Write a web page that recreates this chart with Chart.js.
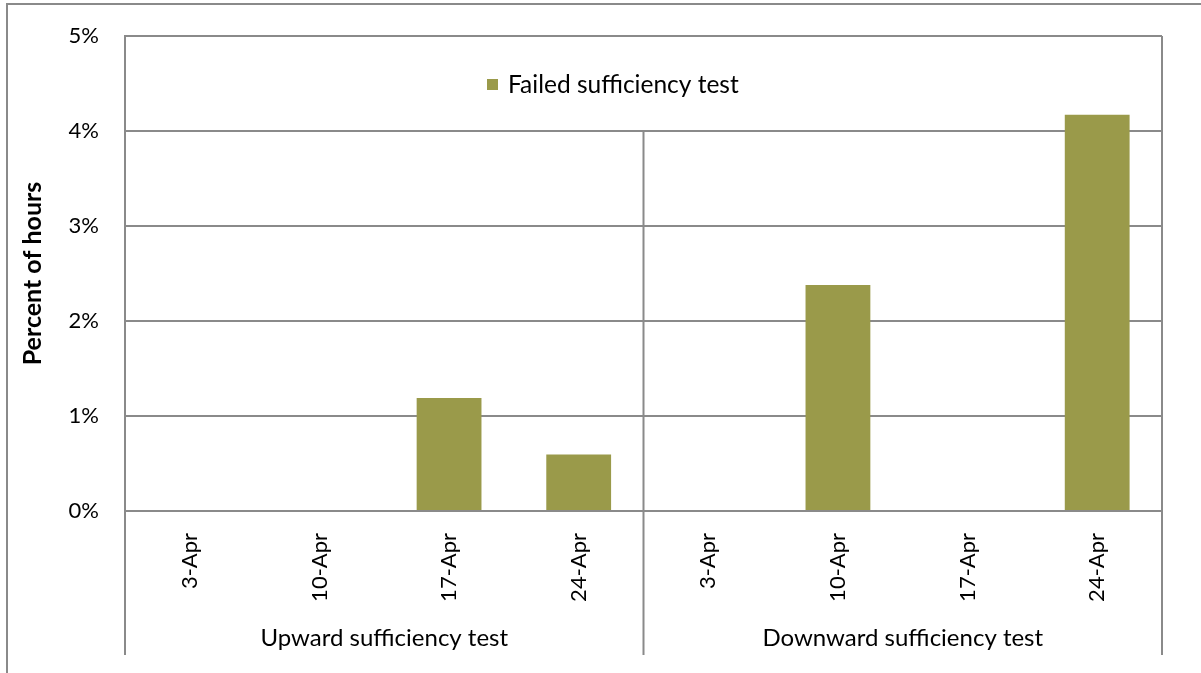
<!DOCTYPE html>
<html>
<head>
<meta charset="utf-8">
<script src="https://cdn.jsdelivr.net/npm/chart.js@4.4.0/dist/chart.umd.min.js"></script>
<style>
  html, body { margin: 0; padding: 0; background: #fff; }
  #wrap { width: 1201px; height: 673px; }
</style>
</head>
<body>
<div id="wrap"><canvas id="myChart" width="1201" height="673"></canvas></div>
<script>
// data
const dates = ['3-Apr', '10-Apr', '17-Apr', '24-Apr', '3-Apr', '10-Apr', '17-Apr', '24-Apr'];
const groups = ['Upward sufficiency test', 'Downward sufficiency test'];
const groupSize = 4;
const failedPct = [0, 0, 1.19, 0.595, 0, 2.38, 0, 4.17];
const yMax = 5;
const yStep = 1;

const FONT = 'Lato, "Noto Sans", sans-serif';
const gridGray = '#8a8a8a';
const barColor = '#9a9a4a';

// group labels, separators, plot border, legend, outer frame
const excelBits = {
    id: 'excelBits',
    afterDraw(chart) {
        const ctx = chart.ctx;
        const x = chart.scales.x;
        const y = chart.scales.y;
        const area = chart.chartArea;
        const bottom = 655;
        ctx.save();
        ctx.strokeStyle = gridGray;
        ctx.lineWidth = 2;
        // plot border right side
        ctx.beginPath();
        ctx.moveTo(area.right, area.top);
        ctx.lineTo(area.right, bottom);
        ctx.moveTo(area.left, area.bottom);
        ctx.lineTo(area.left, bottom);
        ctx.stroke();
        // separators between groups
        for (let g = 1; g < groups.length; g++) {
            const i = g * groupSize;
            const sx = (x.getPixelForValue(i - 1) + x.getPixelForValue(i)) / 2;
            ctx.beginPath();
            ctx.moveTo(sx, y.getPixelForValue(4));
            ctx.lineTo(sx, bottom);
            ctx.stroke();
        }
        // group labels
        ctx.fillStyle = '#000';
        ctx.font = '24px ' + FONT;
        ctx.textAlign = 'center';
        ctx.textBaseline = 'middle';
        groups.forEach((name, g) => {
            const a = x.getPixelForValue(g * groupSize);
            const b = x.getPixelForValue(g * groupSize + groupSize - 1);
            ctx.fillText(name, (a + b) / 2, 638);
        });
        // legend
        const ds = chart.data.datasets[0];
        ctx.fillStyle = ds.backgroundColor;
        ctx.fillRect(487, 79, 11, 11);
        ctx.fillStyle = '#000';
        ctx.textAlign = 'left';
        ctx.font = '24.5px ' + FONT;
        ctx.fillText(ds.label, 508, 85);
        // outer frame
        ctx.strokeStyle = gridGray;
        ctx.strokeRect(7, 4, 1400, 900);
        ctx.restore();
    }
};

let myChart = document.getElementById('myChart').getContext('2d');

let failChart = new Chart(myChart, {
    type: 'bar',
    data: {
        labels: dates,
        datasets: [{
            label: 'Failed sufficiency test',
            data: failedPct,
            backgroundColor: barColor,
            borderWidth: 0,
            categoryPercentage: 0.5,
            barPercentage: 1.0
        }]
    },
    options: {
        responsive: false,
        animation: false,
        layout: { padding: { top: 36, right: 39, left: 0, bottom: 0 } },
        plugins: {
            legend: { display: false },
            tooltip: { enabled: false }
        },
        scales: {
            x: {
                grid: { display: false },
                border: { color: gridGray, width: 2 },
                ticks: {
                    color: '#000',
                    font: { family: FONT, size: 22 },
                    minRotation: 90,
                    maxRotation: 90,
                    padding: 14,
                    autoSkip: false
                },
                afterFit(scale) { scale.height = 162; }
            },
            y: {
                min: 0,
                max: yMax,
                grid: { color: gridGray, lineWidth: 2, drawTicks: true, tickLength: 22, tickColor: 'rgba(0,0,0,0)' },
                border: { color: gridGray, width: 2 },
                ticks: {
                    stepSize: yStep,
                    color: '#000',
                    font: { family: FONT, size: 22 },
                    padding: 4,
                    callback: v => v + '%'
                },
                title: {
                    display: true,
                    text: 'Percent of hours',
                    color: '#000',
                    font: { family: FONT, size: 25, weight: 'bold' },
                    padding: { top: 18, bottom: 0 }
                },
                afterFit(scale) { scale.width = 125; }
            }
        }
    },
    plugins: [excelBits]
});
</script>
</body>
</html>
